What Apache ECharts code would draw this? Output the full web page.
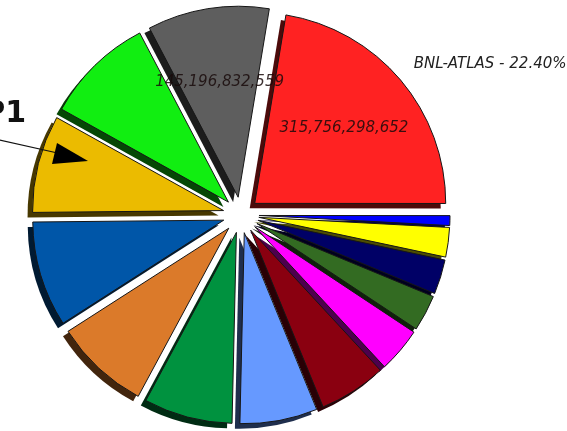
<!DOCTYPE html>
<html>
<head>
<meta charset="utf-8">
<script src="https://cdn.jsdelivr.net/npm/echarts@6/dist/echarts.min.js"></script>
<style>
  html, body { margin: 0; padding: 0; background: #ffffff; }
  #chart { width: 567px; height: 431px; }
</style>
</head>
<body>
<div id="chart"></div>
<script>
// Slice names and sizes, in clockwise order starting at the top.
const siteNames = [
  'BNL-ATLAS', 'Site B', 'Site C', 'Site D', 'Site E', 'Site F', 'Site G',
  'Site H', 'Site I', 'Site J', 'Site K', 'Site L', 'Site M', 'Site N'
];
const siteValues = [
  315756298652, 11700000000, 35200000000, 41100000000, 43100000000,
  53600000000, 80300000000, 92400000000, 105700000000, 113600000000,
  125800000000, 116200000000, 130000000000, 145196832559
];
const sliceColors = [
  '#ff2222', '#0000ff', '#ffff00', '#000066', '#336b22', '#ff00ff', '#8a0010',
  '#6699ff', '#00923f', '#db7a2a', '#0056a8', '#ebbb00', '#11ee11', '#5e5e5e'
];
// Slices that carry the value printed inside them.
const valueLabelled = ['BNL-ATLAS', 'Site N'];
// Slice that carries the name / percentage label outside.
const nameLabelled = ['BNL-ATLAS'];

function darken(hex, f) {
  const n = parseInt(hex.slice(1), 16);
  const r = Math.round(((n >> 16) & 255) * f);
  const g = Math.round(((n >> 8) & 255) * f);
  const b = Math.round((n & 255) * f);
  return 'rgb(' + r + ',' + g + ',' + b + ')';
}

function fmtNum(v) {
  return String(v).replace(/\B(?=(\d{3})+(?!\d))/g, ',');
}

const CX = 241, CY = 215, R = 191, OFFSET = 18;
// The drop shadow is the same pie drawn darker and shifted down-left.
const SHADOW_DX = -5, SHADOW_DY = 5;

const basePie = {
  type: 'pie',
  startAngle: 80.6,
  clockwise: true,
  selectedMode: 'multiple',
  selectedOffset: OFFSET,
  avoidLabelOverlap: false,
  percentPrecision: 2,
  emphasis: { disabled: true }
};

const shadowData = siteNames.map((name, i) => ({
  name: name,
  value: siteValues[i],
  selected: true,
  itemStyle: { color: darken(sliceColors[i], 0.3), borderWidth: 0 }
}));

const mainData = siteNames.map((name, i) => ({
  name: name,
  value: siteValues[i],
  selected: true,
  itemStyle: { color: sliceColors[i], borderColor: '#161616', borderWidth: 1 },
  label: nameLabelled.includes(name) ? { show: true } : { show: false }
}));

const overlayData = siteNames.map((name, i) => ({
  name: name,
  value: siteValues[i],
  selected: true,
  label: valueLabelled.includes(name) ? { show: true } : { show: false }
}));

const chart = echarts.init(document.getElementById('chart'), null, { renderer: 'canvas' });

chart.setOption({
  animation: false,
  backgroundColor: '#ffffff',
  series: [
    Object.assign({}, basePie, {
      silent: true,
      z: 1,
      center: [CX + SHADOW_DX, CY + SHADOW_DY],
      radius: [0, R],
      label: { show: false },
      labelLine: { show: false },
      data: shadowData
    }),
    Object.assign({}, basePie, {
      z: 2,
      center: [CX, CY],
      radius: [0, R],
      label: {
        position: 'outside',
        fontFamily: 'DejaVu Sans',
        fontStyle: 'italic',
        fontSize: 15,
        color: '#222222',
        distanceToLabelLine: -5,
        formatter: p => p.name + ' - ' + p.percent.toFixed(2) + '%'
      },
      labelLine: { show: false, length: 24, length2: 0 },
      data: mainData
    }),
    Object.assign({}, basePie, {
      silent: true,
      z: 3,
      center: [CX, CY],
      radius: [0, 228],
      itemStyle: { color: 'rgba(0,0,0,0)', borderWidth: 0 },
      label: {
        position: 'inside',
        fontFamily: 'DejaVu Sans',
        fontStyle: 'italic',
        fontSize: 15,
        color: 'rgba(25,10,10,0.85)',
        formatter: p => fmtNum(p.value)
      },
      labelLine: { show: false },
      data: overlayData
    })
  ],
  graphic: [
    {
      type: 'text',
      z: 100,
      right: 567 - 26,
      top: 99,
      style: {
        text: 'P1',
        font: 'bold 30px "DejaVu Sans"',
        fill: '#111111',
        textAlign: 'right'
      }
    },
    {
      type: 'line',
      z: 100,
      shape: { x1: -10, y1: 138, x2: 62, y2: 154 },
      style: { stroke: '#111111', lineWidth: 1.2 }
    },
    {
      type: 'polygon',
      z: 100,
      shape: { points: [[57, 143], [52, 164], [88, 161]] },
      style: { fill: '#000000' }
    }
  ]
});
</script>
</body>
</html>
